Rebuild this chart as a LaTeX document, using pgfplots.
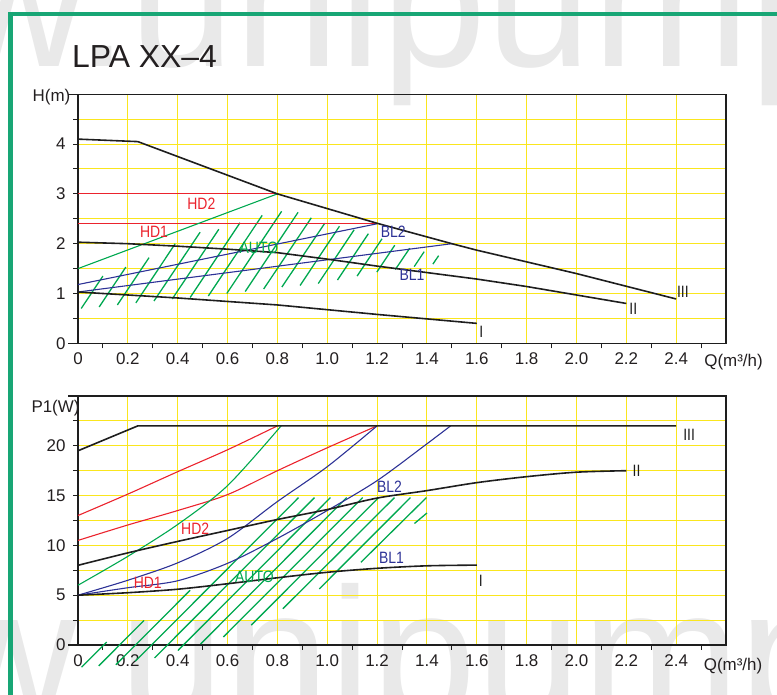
\documentclass[border=0pt]{standalone}
\usepackage{fontspec}
\setmainfont{Liberation Sans}
\newfontfamily\lblfont{Liberation Sans}[FakeStretch=0.85]
\usepackage{pgfplots}
\pgfplotsset{compat=1.18}
\definecolor{gridyellow}{RGB}{250,230,30}
\definecolor{cred}{RGB}{235,35,45}
\definecolor{cblue}{RGB}{45,50,150}
\definecolor{cgreen}{RGB}{0,168,80}
\definecolor{cblack}{RGB}{30,30,30}
\definecolor{frame}{RGB}{24,166,117}
\definecolor{wm}{RGB}{233,233,233}
\definecolor{txt}{RGB}{35,31,32}
\pgfplotsset{
  pumpaxis/.style={
    scale only axis, width=648bp, height=249bp, anchor=south west,
    xmin=0, xmax=2.6, clip=false, unbounded coords=jump,
    axis line style={line width=1.3bp, draw=cblack},
    xtick={0,0.2,0.4,0.6,0.8,1,1.2,1.4,1.6,1.8,2,2.2,2.4},
    xticklabels={0,0.2,0.4,0.6,0.8,1.0,1.2,1.4,1.6,1.8,2.0,2.2,2.4},
    minor xtick={0.1,0.3,0.5,0.7,0.9,1.1,1.3,1.5,1.7,1.9,2.1,2.3,2.5},
    xmajorgrids, ymajorgrids, yminorgrids,
    major grid style={draw=gridyellow, line width=1bp},
    minor grid style={draw=gridyellow, line width=1bp},
    tick align=outside, xtick pos=bottom, ytick pos=left,
    major tick length=0bp, minor tick length=5bp,
    tick style={draw=cblack, line width=1bp},
    xticklabel style={font=\fontsize{17}{17}\selectfont, text=txt, yshift=-6bp},
    yticklabel style={font=\fontsize{17}{17}\selectfont, text=txt, xshift=-9bp},
  },
  blk/.style={draw=cblack, line width=1.6bp},
  thinc/.style={line width=1.1bp},
  hatch/.style={draw=cgreen, line width=1.3bp},
}
\newcommand{\lbl}{\lblfont\fontsize{16.5}{16.5}\selectfont}
\begin{document}
\begin{tikzpicture}
\useasboundingbox (0,0) rectangle (777bp,695bp);
% watermark
\node[anchor=base west, inner sep=0, text=wm, font=\fontsize{190}{190}\selectfont] at (-50bp,628bp) {w.unipump};
\node[anchor=base west, inner sep=0, text=wm, font=\fontsize{190}{190}\selectfont] at (-60bp,-25bp) {w.unipump};
% frame
\draw[frame, line width=4bp] (8.3bp,681bp) -- (777bp,681bp);
\draw[frame, line width=5bp] (10.8bp,683bp) -- (10.8bp,0bp);
% title
\node[anchor=base west, inner sep=0, text=txt, font=\fontsize{32}{32}\selectfont] at (72bp,627bp) {LPA XX–4};

% ---------------- top axis ----------------
\begin{axis}[pumpaxis, at={(78bp,351.7bp)},
  ymin=0, ymax=5,
  ytick={0,1,2,3,4}, yticklabels={0,1,2,3,4},
  minor ytick={0,0.5,1,1.5,2,2.5,3,3.5,4,4.5},
]
% hatch
\addplot[hatch] coordinates {
(0.013,0.70) (0.10,1.35) (nan,nan)
(0.085,0.73) (0.192,1.53) (nan,nan)
(0.158,0.77) (0.285,1.72) (nan,nan)
(0.232,0.81) (0.39,2.0) (nan,nan)
(0.305,0.85) (0.49,2.23) (nan,nan)
(0.378,0.89) (0.565,2.29) (nan,nan)
(0.45,0.92) (0.65,2.42) (nan,nan)
(0.523,0.95) (0.739,2.57) (nan,nan)
(0.597,1.0) (0.817,2.65) (nan,nan)
(0.671,1.04) (0.883,2.63) (nan,nan)
(0.745,1.09) (0.936,2.52) (nan,nan)
(0.818,1.13) (0.99,2.41) (nan,nan)
(0.891,1.16) (1.049,2.35) (nan,nan)
(0.964,1.2) (1.108,2.28) (nan,nan)
(1.041,1.27) (1.165,2.2) (nan,nan)
(1.12,1.35) (1.22,2.1) (nan,nan)
(1.199,1.43) (1.271,1.97) (nan,nan)
(1.273,1.48) (1.331,1.91) (nan,nan)
(1.349,1.54) (1.389,1.84) (nan,nan)
(1.424,1.59) (1.447,1.76)
};
% red
\addplot[cred, thinc] coordinates {(0,3) (0.8,3)};
\addplot[cred, thinc] coordinates {(0,2.4) (1.2,2.4)};
% green
\addplot[cgreen, thinc] coordinates {(0,1.5) (0.8,3.0)};
% blue
\addplot[cblue, thinc] coordinates {(0,1.18) (1.2,2.4)};
\addplot[cblue, thinc] coordinates {(0,1.03) (1.5,2.0)};
% black curves
\addplot[blk] coordinates {(0,4.10) (0.24,4.05) (0.8,3.0) (1.2,2.41) (1.5,2.0) (1.6,1.87) (2.0,1.40) (2.4,0.89)};
\addplot[blk] coordinates {(0,2.03) (0.2,2.0) (0.4,1.95) (0.6,1.89) (0.8,1.82) (1.0,1.69) (1.2,1.55) (1.4,1.42) (1.6,1.29) (1.8,1.14) (2.0,0.97) (2.2,0.80)};
\addplot[blk] coordinates {(0,1.03) (0.2,0.97) (0.4,0.91) (0.8,0.77) (1.2,0.58) (1.4,0.49) (1.6,0.40)};
% labels
\node[text=cred, font=\lbl] at (axis cs:0.495,2.81) {HD2};
\node[text=cred, font=\lbl] at (axis cs:0.305,2.23) {HD1};
\node[text=cgreen, font=\lbl] at (axis cs:0.726,1.92) {AUTO};
\node[text=cblue, font=\lbl] at (axis cs:1.265,2.23) {BL2};
\node[text=cblue, font=\lbl] at (axis cs:1.34,1.37) {BL1};
\node[text=cblack, font=\lbl] at (axis cs:1.618,0.22) {I};
\node[text=cblack, font=\lbl] at (axis cs:2.228,0.70) {II};
\node[text=cblack, font=\lbl] at (axis cs:2.427,1.035) {III};
\end{axis}

% ---------------- bottom axis ----------------
\begin{axis}[pumpaxis, at={(78bp,50bp)},
  ymin=0, ymax=25,
  ytick={0,5,10,15,20}, yticklabels={0,5,10,15,20},
  minor ytick={0,2.5,5,7.5,10,12.5,15,17.5,20,22.5},
]
% hatch
\addplot[hatch] coordinates {
(0.014,-2.23) (0.115,0.30) (nan,nan)
(0.083,-2.1) (0.265,2.46) (nan,nan)
(0.152,-1.98) (0.45,5.5) (nan,nan)
(0.230,-1.63) (0.885,14.8) (nan,nan)
(0.307,-1.3) (0.949,14.8) (nan,nan)
(0.401,-0.55) (1.013,14.8) (nan,nan)
(0.492,0.1) (1.078,14.8) (nan,nan)
(0.583,0.8) (1.142,14.8) (nan,nan)
(0.695,1.99) (1.206,14.8) (nan,nan)
(0.822,3.64) (1.27,14.8) (nan,nan)
(0.968,5.63) (1.334,14.8) (nan,nan)
(1.135,8.3) (1.398,14.8) (nan,nan)
(1.35,12.2) (1.40,13.25)
};
% red
\addplot[cred, thinc, smooth] coordinates {(0,13) (0.2,15.15) (0.4,17.4) (0.6,19.6) (0.8,22)};
\addplot[cred, thinc, smooth] coordinates {(0,10.5) (0.2,12.05) (0.4,13.5) (0.6,15.1) (0.8,17.5) (1.0,19.8) (1.2,22)};
% green
\addplot[cgreen, thinc, smooth] coordinates {(0,6) (0.2,8.9) (0.4,12.1) (0.6,16.0) (0.815,22)};
% blue
\addplot[cblue, thinc, smooth] coordinates {(0,5) (0.2,6.5) (0.4,8.25) (0.6,10.7) (0.8,14.4) (1.0,17.9) (1.2,22)};
\addplot[cblue, thinc, smooth] coordinates {(0,5) (0.2,5.75) (0.4,6.45) (0.6,8.2) (0.8,10.7) (1.0,13.5) (1.2,16.5) (1.4,20.2) (1.495,22)};
% black
\addplot[blk] coordinates {(0,19.5) (0.24,22) (2.4,22)};
\addplot[blk, smooth] coordinates {(0,8.0) (0.2,9.25) (0.4,10.4) (0.6,11.5) (0.8,12.6) (1.0,13.6) (1.2,14.75) (1.4,15.5) (1.6,16.3) (1.8,16.9) (2.0,17.35) (2.2,17.5)};
\addplot[blk, smooth] coordinates {(0,5.0) (0.2,5.25) (0.4,5.6) (0.6,6.15) (0.8,6.75) (1.0,7.3) (1.2,7.7) (1.4,7.95) (1.6,8.02)};
% labels
\node[text=cred, font=\lbl] at (axis cs:0.47,11.7) {HD2};
\node[text=cred, font=\lbl] at (axis cs:0.28,6.2) {HD1};
\node[text=cgreen, font=\lbl] at (axis cs:0.708,6.87) {AUTO};
\node[text=cblue, font=\lbl] at (axis cs:1.25,15.9) {BL2};
\node[text=cblue, font=\lbl] at (axis cs:1.258,8.8) {BL1};
\node[text=cblack, font=\lbl] at (axis cs:1.616,6.43) {I};
\node[text=cblack, font=\lbl] at (axis cs:2.241,17.5) {II};
\node[text=cblack, font=\lbl] at (axis cs:2.452,21.06) {III};
\end{axis}

% axis line extensions and axis titles
\draw[cblack, line width=1.3bp] (68bp,600.7bp) -- (78bp,600.7bp);
\draw[cblack, line width=1.3bp] (68bp,351.7bp) -- (78bp,351.7bp);
\draw[cblack, line width=1.3bp] (68bp,299bp) -- (78bp,299bp);
\draw[cblack, line width=1.3bp] (68bp,50bp) -- (78bp,50bp);
\node[text=txt, font=\fontsize{17}{17}\selectfont, inner sep=0] at (51.5bp,597.5bp) {H(m)};
\node[text=txt, font=\fontsize{17}{17}\selectfont, inner sep=0] at (55.5bp,286.5bp) {P1(W)};
\node[text=txt, font=\fontsize{17}{17}\selectfont, inner sep=0] at (733.5bp,333bp) {Q(m³/h)};
\node[text=txt, font=\fontsize{17}{17}\selectfont, inner sep=0] at (733bp,29bp) {Q(m³/h)};
\end{tikzpicture}
\end{document}
